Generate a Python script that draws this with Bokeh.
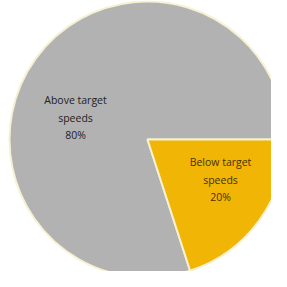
import math
from bokeh.plotting import figure
from bokeh.models import Range1d, ColumnDataSource
from bokeh.core.properties import value
from bokeh.embed import file_html
from bokeh.resources import INLINE

labels = ["Above target\nspeeds", "Below target\nspeeds"]
values = [80, 20]
colors = ["#b2b2b2", "#f1b505"]
text_colors = ["#222222", "#453200"]

total = sum(values)
shares = [v / total * 2 * math.pi for v in values]
# larger slice anticlockwise from 3 o'clock, smaller slice clockwise from 3 o'clock
start_angles = [0.0, -shares[1]]
end_angles = [shares[0], 0.0]

cx, cy, r = 155, 140, 138
label_x = [83, 228]
label_y = [287 - 125, 287 - 187]
texts = [f"{l}\n{v}%" for l, v in zip(labels, values)]

src = ColumnDataSource(dict(start=start_angles, end=end_angles, color=colors,
                            tx=label_x, ty=label_y, text=texts, tc=text_colors))

p = figure(width=271, height=271, output_backend="svg", toolbar_location=None,
           x_range=Range1d(8, 279), y_range=Range1d(8, 279), min_border=0)
p.axis.visible = False
p.grid.visible = False
p.outline_line_color = None
p.background_fill_color = "white"

p.wedge(x=cx, y=cy, radius=r, start_angle="start", end_angle="end",
        fill_color="color", line_color="#f6f1d2", line_width=2, source=src)
p.text(x="tx", y="ty", text="text", text_color="tc", text_align="center",
       text_baseline="middle", text_font=value("Open Sans"), text_font_size="10.5px",
       text_font_style="normal", text_line_height=1.25, source=src)

open("out.html", "w").write(file_html(p, INLINE))
